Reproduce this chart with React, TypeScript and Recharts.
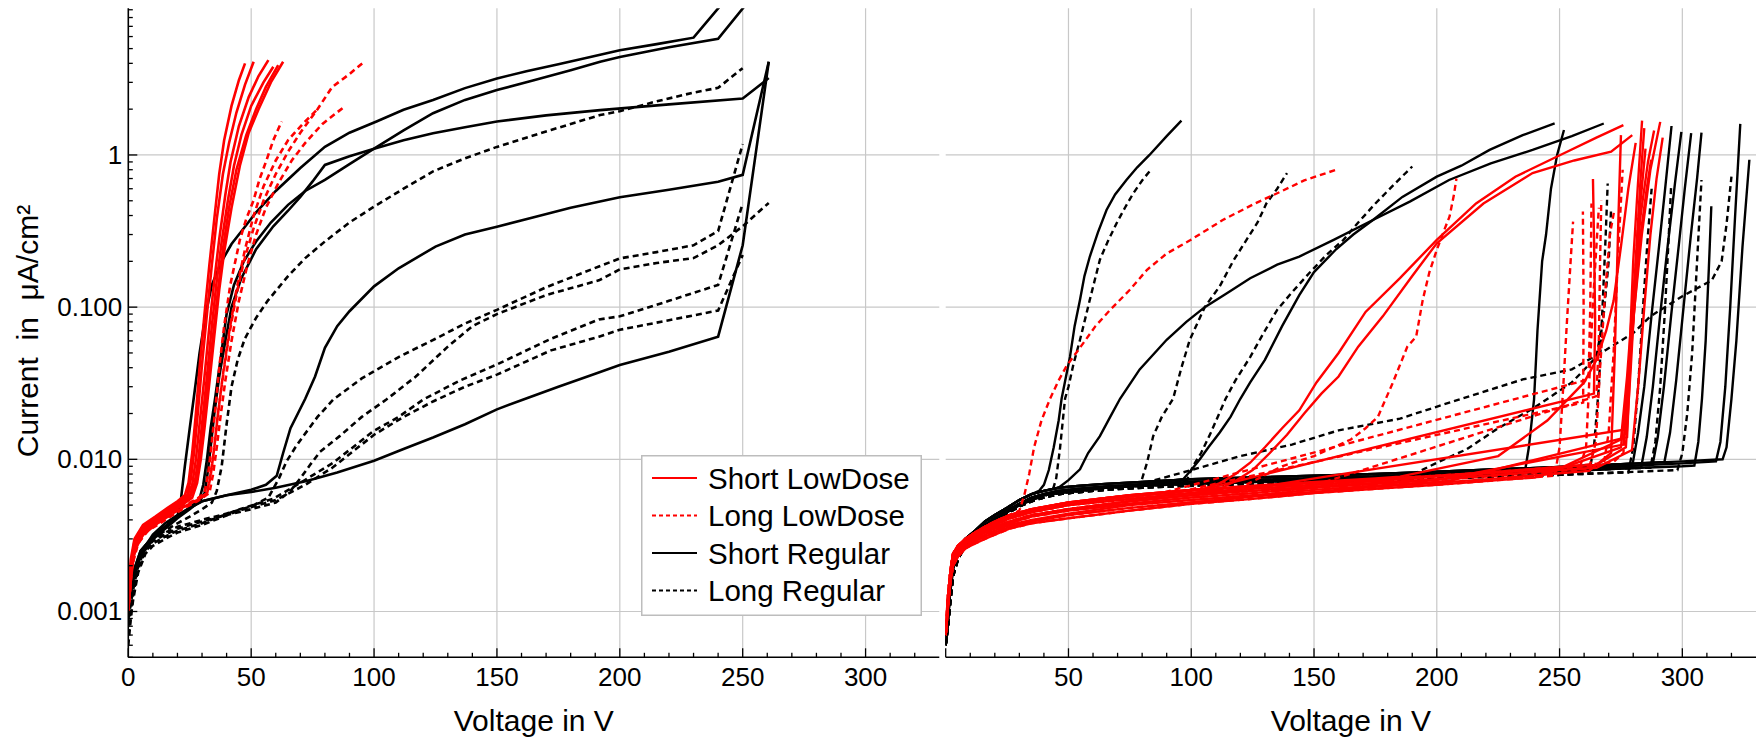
import React from "react";
import { CartesianGrid, Line, LineChart, XAxis, YAxis } from "recharts";

type Pt = [number, number];
type Curve = { pts: Pt[]; color: string; dashed: boolean };

const RED = "#ff0000";
const BLACK = "#000000";
const GRID = "#c8c8c8";
const FONT = "'Liberation Sans', Arial, sans-serif";

// axes
const X_TICKS = [0, 10, 20, 30, 40, 50, 60, 70, 80, 90, 100, 110, 120, 130, 140, 150, 160, 170, 180, 190, 200, 210, 220, 230, 240, 250, 260, 270, 280, 290, 300, 310, 320];
const X_MAJOR = [0, 50, 100, 150, 200, 250, 300];
const X_GRID = [50, 100, 150, 200, 250, 300];
const Y_TICKS = [
  0.0005, 0.0006, 0.0007, 0.0008, 0.0009,
  0.001, 0.002, 0.003, 0.004, 0.005, 0.006, 0.007, 0.008, 0.009,
  0.01, 0.02, 0.03, 0.04, 0.05, 0.06, 0.07, 0.08, 0.09,
  0.1, 0.2, 0.3, 0.4, 0.5, 0.6, 0.7, 0.8, 0.9,
  1, 2, 3, 4, 5, 6, 7, 8, 9,
];
const Y_MAJOR = [0.001, 0.01, 0.1, 1];
const Y_LABELS = ["0.001", "0.010", "0.100", "1"];

const LEGEND = [
  { label: "Short LowDose", color: RED, dashed: false },
  { label: "Long LowDose", color: RED, dashed: true },
  { label: "Short Regular", color: BLACK, dashed: false },
  { label: "Long Regular", color: BLACK, dashed: true },
];

// ---------- left panel: voltage (V) vs current (uA/cm2) ----------
const LR1: Pt[] = [[0,0.0013],[1,0.0022],[2.5,0.003],[6,0.0037],[11,0.0042],[16,0.0048],[20,0.0053],[23,0.0058],[24.5,0.007],[26,0.011],[27.5,0.02],[29,0.04],[31,0.09],[33,0.19],[35,0.38],[37,0.75],[39,1.25],[42,2.1],[45,3.1],[47.5,4.0]];
const LR2: Pt[] = [[0,0.0012],[1,0.002],[2.5,0.0029],[6,0.0036],[11,0.0041],[16,0.0047],[20,0.0052],[24,0.0058],[25.5,0.0075],[27,0.012],[28.5,0.022],[30,0.042],[32,0.09],[34,0.19],[36,0.38],[38.5,0.75],[41,1.2],[44,1.9],[47.5,2.9],[51,4.1]];
const LR3: Pt[] = [[0,0.0011],[1,0.0019],[2.5,0.0028],[6,0.0035],[11,0.004],[16,0.0046],[20,0.0051],[24,0.0058],[26,0.0068],[27.5,0.01],[29,0.017],[31,0.035],[33,0.075],[35,0.15],[37,0.28],[39.5,0.55],[41.6,0.9],[45,1.55],[49,2.4],[53,3.3],[57,4.2]];
const LR4: Pt[] = [[0,0.0011],[1,0.0018],[2.5,0.0027],[6,0.0034],[11,0.0039],[16,0.0045],[21,0.0051],[25,0.0058],[27,0.007],[28.5,0.01],[30,0.017],[32,0.035],[34,0.075],[36,0.15],[38,0.27],[40.5,0.5],[43,0.85],[46,1.35],[50,2.1],[55,3.0],[59,3.8]];
const LR5: Pt[] = [[0,0.001],[1,0.0017],[2.5,0.0026],[6,0.0033],[11,0.0038],[16,0.0044],[21,0.005],[25,0.0056],[27.5,0.007],[29,0.01],[30.5,0.016],[32.5,0.032],[34.5,0.065],[36.5,0.13],[38.5,0.24],[41,0.45],[44,0.8],[48,1.35],[52,2.0],[56,2.8],[61,3.9]];
const LR6: Pt[] = [[0,0.001],[1,0.0016],[2.5,0.0025],[6,0.0032],[11,0.0037],[16,0.0043],[21,0.0049],[26,0.0056],[28,0.007],[29.5,0.01],[31,0.016],[33,0.032],[35,0.065],[37,0.13],[39,0.23],[42,0.45],[45.4,0.85],[49,1.4],[53,2.0],[58,3.0],[63,4.1]];

const LD1: Pt[] = [[0,0.0011],[1.5,0.0022],[4,0.003],[8,0.0036],[13,0.004],[18,0.0045],[23,0.005],[28,0.0055],[31,0.006],[32.5,0.008],[34,0.013],[35.5,0.022],[37,0.04],[39,0.075],[41.5,0.14],[45.4,0.277],[48,0.38],[50.9,0.5],[53.5,0.7],[56.3,0.93],[59,1.25],[62.4,1.66]];
const LD2: Pt[] = [[0,0.001],[1.5,0.002],[4,0.0029],[8,0.0035],[13,0.0039],[18,0.0044],[23,0.0049],[28,0.0054],[32,0.006],[33.5,0.008],[35,0.012],[36.5,0.02],[38.5,0.035],[41,0.065],[44,0.12],[47,0.2],[51,0.33],[55,0.5],[60,0.75],[65,1.05],[70,1.4],[77,2.0],[83,2.8],[90,3.4],[96,4.1]];
const LD3: Pt[] = [[0,0.001],[1.5,0.002],[4,0.0028],[8,0.0034],[13,0.0038],[18,0.0043],[23,0.0048],[28,0.0053],[33,0.006],[34.5,0.008],[36,0.012],[37.5,0.019],[39.5,0.033],[42,0.06],[45,0.11],[48.5,0.19],[52,0.3],[56,0.45],[61,0.65],[66.5,0.92],[72,1.2],[79,1.6],[87.5,2.05]];
const LD4: Pt[] = [[0,0.0011],[1.5,0.0021],[4,0.0029],[8,0.0035],[13,0.0039],[18,0.0044],[23,0.0049],[28,0.0054],[32,0.0059],[33.5,0.0078],[35,0.012],[36.5,0.02],[38.5,0.036],[41,0.068],[44,0.13],[47.5,0.24],[51,0.4],[55,0.62],[60,0.92],[65,1.25],[71,1.6],[77,2.0]];

const LS1: Pt[] = [[0,0.0011],[2,0.0018],[5,0.0025],[10,0.0031],[15,0.0036],[20,0.0042],[21.5,0.0056],[23,0.009],[25,0.016],[27,0.028],[29,0.05],[31.5,0.09],[34,0.14],[38,0.2],[42,0.26],[47,0.33],[52,0.42],[60,0.58],[70,0.82],[80,1.13],[90,1.4],[101,1.66],[112,1.98],[124,2.3],[137,2.75],[150,3.18],[162,3.55],[175,3.95],[188,4.4],[200,4.88],[215,5.35],[230,5.9],[241,9.6]];
const LS2: Pt[] = [[0,0.0011],[2,0.0018],[5,0.0025],[10,0.0031],[15,0.0036],[20,0.0042],[25,0.0048],[29,0.0055],[30.5,0.0068],[32,0.01],[33.5,0.016],[35.3,0.025],[37.5,0.045],[40,0.09],[43,0.14],[47,0.2],[52,0.27],[58,0.36],[65,0.47],[72,0.58],[80,0.686],[90,0.87],[100,1.1],[112,1.45],[124,1.88],[137,2.3],[150,2.67],[165,3.1],[180,3.6],[192,4.1],[200,4.4],[220,5.1],[240,5.8],[251,9.6]];
const LS3: Pt[] = [[0,0.0011],[2,0.0017],[5,0.0024],[10,0.003],[15,0.0035],[20,0.0041],[25,0.0047],[29,0.0053],[31,0.006],[32,0.0075],[33.5,0.012],[35,0.02],[37,0.035],[39.5,0.06],[42,0.1],[46,0.155],[52,0.24],[59,0.34],[65,0.43],[70,0.53],[75,0.67],[80,0.86],[90,0.98],[100,1.1],[112,1.25],[124,1.39],[137,1.52],[150,1.66],[170,1.82],[192,1.97],[220,2.15],[250,2.35],[260.6,3.2]];
const LS4: Pt[] = [[0,0.0011],[2,0.0017],[5,0.0024],[10,0.0032],[15,0.0038],[20,0.0043],[25,0.0048],[30,0.0053],[40,0.0058],[50,0.0063],[56,0.0068],[60.4,0.0078],[63,0.011],[66,0.016],[69,0.02],[72,0.025],[76,0.035],[80,0.054],[85,0.075],[90,0.094],[100,0.137],[110,0.18],[125,0.25],[137,0.3],[150,0.338],[165,0.39],[180,0.45],[200,0.527],[220,0.59],[240,0.667],[250,0.74],[260.6,4.1]];
const LS5: Pt[] = [[0,0.0011],[2,0.0016],[5,0.0023],[10,0.003],[15,0.0036],[20,0.0042],[25,0.0048],[30,0.0053],[40,0.0058],[50,0.0061],[60,0.0065],[72.6,0.0072],[85,0.0082],[100,0.0098],[112,0.0117],[124,0.0139],[137,0.017],[150,0.0213],[163,0.0255],[175,0.03],[188,0.0355],[200,0.0417],[220,0.051],[240,0.064],[250,0.255],[260.6,4.1]];

const LL1: Pt[] = [[0,0.0006],[1,0.0009],[2,0.0014],[3.5,0.002],[6,0.0026],[10,0.003],[15,0.0034],[20,0.0038],[25,0.0042],[30,0.0047],[34,0.0052],[36,0.0062],[38,0.009],[40,0.017],[42,0.03],[44.5,0.045],[47.4,0.062],[52,0.085],[56.7,0.11],[65,0.16],[72,0.21],[80,0.27],[90,0.36],[100,0.458],[112,0.6],[124,0.78],[137,0.95],[150,1.13],[172,1.46],[192,1.83],[200,1.94],[215,2.25],[230,2.57],[240,2.76],[250,3.72]];
const LL2: Pt[] = [[0,0.0009],[2,0.0015],[4,0.002],[7,0.0027],[10,0.003],[15,0.0033],[20,0.0036],[30,0.004],[40,0.0044],[50,0.0049],[57,0.0056],[61.3,0.0075],[64.4,0.0097],[68,0.012],[71.2,0.0142],[77,0.019],[83.4,0.0247],[95,0.034],[110,0.047],[125,0.062],[137,0.078],[150,0.096],[170,0.135],[191.5,0.185],[200,0.209],[215,0.23],[230,0.255],[240,0.316],[250,1.18]];
const LL3: Pt[] = [[0,0.0009],[2,0.0014],[4,0.002],[7,0.0026],[10,0.0029],[15,0.0032],[20,0.0035],[30,0.0039],[40,0.0043],[50,0.0047],[60,0.0052],[66,0.0062],[70,0.0075],[74,0.0092],[78,0.0112],[86,0.0142],[95,0.019],[105,0.0247],[117,0.035],[130,0.055],[140,0.075],[150,0.09],[170,0.12],[191.5,0.15],[200,0.177],[215,0.195],[230,0.21],[240,0.255],[250,0.34],[260.6,0.484]];
const LL4: Pt[] = [[0,0.0008],[2,0.0013],[4,0.0019],[7,0.0025],[10,0.0028],[15,0.0031],[20,0.0034],[30,0.0038],[45.4,0.0047],[59,0.0055],[71.2,0.0072],[83.4,0.0095],[99.7,0.0153],[110,0.019],[120,0.0247],[135,0.033],[150,0.042],[172,0.062],[191.5,0.083],[200,0.087],[220,0.11],[240,0.14],[250,0.48]];
const LL5: Pt[] = [[0,0.0007],[2,0.0012],[4,0.0018],[7,0.0024],[10,0.0027],[15,0.003],[20,0.0033],[30,0.0037],[45,0.0046],[60,0.0054],[72,0.0068],[83,0.0088],[100,0.0145],[112,0.019],[124,0.024],[137,0.03],[150,0.036],[172,0.052],[191.5,0.064],[200,0.071],[220,0.082],[240,0.095],[250,0.22]];

// ---------- right panel: common leakage bundle ----------
const BK1: Pt[] = [[0,0.0006],[1,0.001],[2,0.0016],[3,0.0022],[5,0.0026],[8,0.003],[12,0.0034],[16,0.0039],[20,0.0043],[25,0.0048],[30,0.0054],[35,0.0059],[40,0.0062],[46,0.0065],[55,0.0067],[65,0.0069],[80,0.0071],[100,0.0074],[125,0.0076],[150,0.0078],[175,0.008],[200,0.0083],[225,0.0086],[250,0.0089],[275,0.0093],[300,0.0097],[325,0.0101]];
const BK2: Pt[] = [[0,0.0006],[1,0.0009],[2,0.0015],[3,0.0021],[5,0.0025],[8,0.0029],[12,0.0033],[16,0.0037],[20,0.0041],[25,0.0046],[30,0.0051],[35,0.0056],[40,0.0059],[46,0.0062],[55,0.0064],[65,0.0066],[80,0.0068],[100,0.0071],[125,0.0073],[150,0.0075],[175,0.0077],[200,0.008],[225,0.0083],[250,0.0086],[275,0.009],[300,0.0094],[325,0.0098]];
const BK3: Pt[] = [[0,0.0006],[1,0.0008],[2,0.0012],[3,0.0017],[5,0.0022],[8,0.0027],[12,0.0031],[16,0.0035],[20,0.0039],[25,0.0044],[30,0.0049],[35,0.0053],[40,0.0056],[46,0.0059],[55,0.0061],[65,0.0063],[80,0.0065],[100,0.0067],[125,0.0069],[150,0.0071],[175,0.0073],[200,0.0075],[225,0.0077],[250,0.0079],[275,0.0082],[300,0.0085],[325,0.0088]];
const BK4: Pt[] = [[0,0.0007],[1,0.001],[2,0.0014],[3,0.0019],[5,0.0024],[8,0.0028],[12,0.0032],[16,0.0036],[20,0.004],[25,0.0045],[30,0.005],[35,0.0054],[40,0.0058],[46,0.006],[55,0.0062],[65,0.0065],[80,0.0067],[100,0.0069],[125,0.0071],[150,0.0073],[175,0.0075],[200,0.0078],[225,0.008],[250,0.0083],[275,0.0087],[300,0.009],[325,0.0094]];

const RD1: Pt[] = [[0,0.0008],[1,0.0013],[2,0.0019],[3,0.0024],[5,0.0027],[8,0.003],[12,0.0033],[16,0.0036],[20,0.0039],[26,0.0043],[35,0.0047],[50,0.0052],[75,0.0058],[100,0.0063],[125,0.0067],[150,0.0071],[175,0.0075],[200,0.0079],[225,0.0084],[250,0.009],[270,0.0096],[285,0.0102]];
const RD2: Pt[] = [[0,0.0007],[1,0.0012],[2,0.0018],[3,0.0022],[5,0.0025],[8,0.0028],[12,0.0031],[16,0.0034],[20,0.0036],[26,0.0039],[35,0.0043],[50,0.0047],[75,0.0053],[100,0.0058],[125,0.0062],[150,0.0066],[175,0.007],[200,0.0074],[225,0.0079],[250,0.0085],[270,0.009],[285,0.0095]];
const RD3: Pt[] = [[0,0.0007],[1,0.0011],[2,0.0016],[3,0.002],[5,0.0023],[8,0.0026],[12,0.0028],[16,0.003],[20,0.0032],[26,0.0035],[35,0.0038],[50,0.0041],[75,0.0046],[100,0.0051],[125,0.0055],[150,0.006],[175,0.0064],[200,0.0068],[225,0.0073],[250,0.0079],[270,0.0084],[285,0.0088]];
const RD4: Pt[] = [[0,0.0008],[1,0.0012],[2,0.0018],[3,0.0023],[5,0.0026],[8,0.0029],[12,0.0032],[16,0.0035],[20,0.0037],[26,0.0041],[35,0.0045],[50,0.005],[75,0.0055],[100,0.006],[125,0.0064],[150,0.0068],[175,0.0072],[200,0.0077],[225,0.0082],[250,0.0087],[270,0.0093],[285,0.0098]];
const RD5: Pt[] = [[0,0.0007],[1,0.0011],[2,0.0017],[3,0.0021],[5,0.0024],[8,0.0027],[12,0.0029],[16,0.0032],[20,0.0034],[26,0.0037],[35,0.004],[50,0.0044],[75,0.005],[100,0.0054],[125,0.0058],[150,0.0063],[175,0.0067],[200,0.0071],[225,0.0076],[250,0.0082],[270,0.0087],[285,0.0091]];
const RD6: Pt[] = [[0,0.0008],[1,0.0013],[2,0.0019],[3,0.0024],[5,0.0027],[8,0.003],[12,0.0033],[16,0.0036],[20,0.0038],[26,0.0042],[35,0.0046],[50,0.0051],[75,0.0057],[100,0.0062],[125,0.0066],[150,0.007],[175,0.0074],[200,0.0078],[225,0.0083],[250,0.0089],[270,0.0095],[285,0.01]];
const RD7: Pt[] = [[0,0.0007],[1,0.0012],[2,0.0017],[3,0.0022],[5,0.0025],[8,0.0028],[12,0.003],[16,0.0033],[20,0.0035],[26,0.0038],[35,0.0042],[50,0.0046],[75,0.0051],[100,0.0056],[125,0.006],[150,0.0065],[175,0.0069],[200,0.0073],[225,0.0078],[250,0.0084],[270,0.0089],[285,0.0093]];
const RD8: Pt[] = [[0,0.0007],[1,0.0011],[2,0.0016],[3,0.002],[5,0.0023],[8,0.0026],[12,0.0029],[16,0.0031],[20,0.0033],[26,0.0036],[35,0.0039],[50,0.0043],[75,0.0048],[100,0.0052],[125,0.0057],[150,0.0061],[175,0.0066],[200,0.007],[225,0.0075],[250,0.0081],[270,0.0086],[285,0.009]];

// each right-panel curve follows a bundle line until its own readings start
const onBase = (base: Pt[], tail: Pt[]): Pt[] => [...base.filter((p) => p[0] < tail[0][0]), ...tail];

// Short Regular (black solid)
const RS1 = onBase(BK1, [[38,0.0062],[40,0.0068],[42,0.0085],[44,0.012],[46,0.018],[47.2,0.025],[49,0.035],[50.6,0.047],[52.5,0.075],[54.7,0.112],[56.5,0.16],[58.7,0.215],[62,0.31],[65.5,0.435],[69,0.55],[73.6,0.685],[78,0.83],[83,1.0],[90,1.33],[96,1.68]]);
const RS2 = onBase(BK1, [[46.5,0.0066],[50,0.0073],[54.7,0.0086],[58,0.011],[62.8,0.0142],[67,0.019],[71,0.025],[79,0.039],[90,0.061],[98,0.08],[105.5,0.1],[115,0.125],[124,0.155],[135,0.19],[144,0.215],[158,0.277],[174,0.374],[189,0.494],[205,0.685],[222,0.88],[239,1.08],[255,1.33],[268,1.61]]);
const RS3 = onBase(BK2, [[96.7,0.0074],[100,0.0085],[103.5,0.01],[107,0.012],[111.6,0.015],[116,0.019],[120,0.025],[124,0.032],[130,0.045],[137,0.075],[144,0.12],[150,0.17],[159,0.24],[166,0.3],[174,0.374],[186,0.53],[200,0.72],[210,0.85],[221.5,1.08],[235,1.35],[248,1.61]]);
const RS4 = onBase(BK2, [[236,0.0085],[237.5,0.012],[239.6,0.0247],[241,0.07],[242.9,0.2],[244.5,0.3],[246.5,0.6],[249,1.0],[251.8,1.46]]);
const RS5 = onBase(BK1, [[279.8,0.0094],[282,0.015],[284.5,0.03],[287.5,0.09],[290.5,0.25],[293,0.6],[295.6,1.55]]);
const RS6 = onBase(BK4, [[283.2,0.0088],[285.5,0.014],[288,0.03],[291,0.09],[294,0.25],[297,0.65],[299.6,1.42]]);
const RS7 = onBase(BK2, [[287.9,0.0092],[290,0.014],[292.5,0.03],[295.5,0.09],[298.5,0.25],[301,0.6],[303.6,1.39]]);
const RS8 = onBase(BK1, [[292.7,0.0096],[295,0.015],[297.5,0.033],[300.5,0.1],[303.5,0.3],[306,0.7],[307.8,1.4]]);
const RS9 = onBase(BK4, [[304.9,0.0091],[306.5,0.013],[308,0.025],[309.5,0.06],[310.8,0.18],[311.8,0.46]]);
const RS10 = onBase(BK2, [[313.7,0.0097],[315.5,0.013],[317.5,0.03],[319.5,0.1],[321.5,0.4],[323.6,1.6]]);
const RS11 = onBase(BK1, [[316.4,0.01],[318,0.012],[320,0.025],[322,0.06],[324.5,0.25],[327.3,0.93]]);

// Long Regular (black dashed)
const RL1 = onBase(BK3, [[43,0.0058],[45,0.0075],[46.5,0.0116],[48.6,0.025],[50,0.03],[52,0.042],[54.7,0.061],[56.5,0.08],[58.7,0.112],[62.8,0.205],[66,0.27],[69.6,0.356],[73,0.45],[76.4,0.56],[80,0.68],[83,0.78]]);
const RL2 = onBase(BK3, [[79,0.0066],[82,0.0095],[84.5,0.0142],[88,0.019],[92.6,0.025],[96,0.04],[99.4,0.061],[105.5,0.1],[111.6,0.137],[117,0.2],[122.5,0.277],[127,0.36],[130.6,0.48],[135,0.6],[139,0.76]]);
const RL3 = onBase(BK4, [[98,0.0072],[101,0.0092],[104,0.011],[108,0.015],[114,0.025],[118,0.033],[124,0.047],[130,0.07],[135,0.096],[141,0.125],[148,0.167],[155,0.22],[162,0.277],[168,0.36],[175,0.48],[183,0.65],[190,0.84]]);
const RL4 = onBase(BK4, [[77,0.0067],[100,0.0085],[120,0.0105],[141,0.0125],[160,0.0155],[185,0.0185],[210,0.025],[235,0.0335],[255,0.039],[269,0.0525],[280,0.0675],[287,0.087],[300,0.118],[312,0.15],[316,0.2],[318,0.35],[320,0.72]]);
const RL5 = onBase(BK3, [[298,0.0085],[300,0.011],[302,0.02],[304,0.05],[306,0.2],[307.8,0.685]]);
const RL6 = onBase(BK3, [[262,0.0081],[264,0.012],[266,0.03],[267.5,0.1],[268.8,0.3],[269.6,0.65]]);
const RL7 = onBase(BK4, [[287,0.0088],[289,0.013],[291,0.03],[293,0.1],[294.5,0.3],[295.4,0.605]]);
const RL8 = onBase(BK2, [[190,0.0079],[200,0.0095],[212,0.0116],[225,0.016],[240,0.022],[255,0.032],[265,0.047],[268,0.09],[270,0.2],[271,0.45]]);
const RL9 = onBase(BK3, [[278,0.0082],[280,0.012],[282,0.03],[284,0.1],[286,0.3],[287.5,0.6]]);

// Short LowDose (red solid)
const RR1 = onBase(RD1, [[105,0.0064],[112,0.007],[118,0.008],[124,0.0095],[130,0.012],[137,0.016],[144,0.021],[151,0.032],[160,0.05],[171,0.093],[185,0.155],[200,0.277],[216,0.48],[232,0.72],[252,1.03],[265,1.3],[276,1.57]]);
const RR2 = onBase(RD4, [[110,0.0062],[118,0.0072],[125,0.0085],[132,0.011],[139,0.0145],[146,0.02],[153,0.027],[160,0.035],[168,0.055],[178,0.087],[190,0.16],[200,0.263],[219,0.48],[239,0.76],[256,0.92],[271,1.05],[279.6,1.35]]);
const RR3 = onBase(RD1, [[106,0.0064],[264,0.027],[264.5,0.08],[264,0.3],[263.6,0.696]]);
const RR4 = onBase(RD2, [[115,0.0061],[277,0.0157],[278.5,0.05],[280,0.2],[281.8,0.6],[283.6,1.68]]);
const RR5 = onBase(RD7, [[200,0.0073],[276,0.0125],[278,0.03],[280.5,0.1],[283,0.3],[285.5,0.6],[287.3,0.93]]);
const RR6 = onBase(RD3, [[240,0.0076],[275,0.012],[277.5,0.03],[280.5,0.1],[283.5,0.3],[287,0.8],[291,1.65]]);
const RR7 = onBase(RD4, [[250,0.0087],[275,0.0135],[277.5,0.035],[280,0.12],[283,0.4],[286,0.9],[288.5,1.45]]);
const RR8 = onBase(RD2, [[265,0.0088],[279.5,0.0115],[282,0.03],[284.5,0.1],[287,0.3],[289.5,0.7],[292,1.3]]);
const RR9 = onBase(RD8, [[262,0.0084],[271,0.011],[272.5,0.05],[274,0.4],[275,1.35]]);
const RR10 = onBase(RD1, [[185,0.0077],[225,0.0105],[245,0.018],[260,0.032],[265,0.045],[269,0.07],[272,0.11],[275,0.25],[278,0.6],[281,1.2]]);
const RR11 = onBase(RD6, [[265,0.0092],[277,0.012],[279,0.04],[281,0.15],[283,0.5],[285,1.1]]);
const RR12 = onBase(RD5, [[205,0.0072],[277.5,0.014],[279,0.05],[281,0.2],[283,0.7],[284.5,1.5]]);

// Long LowDose (red dashed)
const RLD1 = onBase(RD1, [[30,0.0046],[32,0.0058],[34,0.008],[36,0.012],[39,0.018],[42.5,0.025],[46,0.033],[49.2,0.041],[55,0.055],[61,0.075],[67,0.096],[75,0.13],[82,0.176],[90,0.225],[99.5,0.275],[113,0.375],[126,0.48],[136,0.57],[146,0.68],[159,0.8]]);
const RLD2 = onBase(RD4, [[120,0.0065],[137,0.009],[150,0.0105],[158,0.012],[165,0.0135],[171,0.016],[176,0.019],[182,0.0316],[188,0.055],[191.6,0.064],[194.3,0.112],[197,0.17],[200,0.238],[203,0.32],[205.2,0.394],[207,0.55],[208,0.7]]);
const RLD3 = onBase(RD3, [[248,0.0078],[250,0.012],[251.5,0.03],[253,0.08],[254.5,0.2],[255.5,0.365]]);
const RLD4 = onBase(RD2, [[80,0.0054],[259.6,0.0236],[259.8,0.1],[259.5,0.425]]);
const RLD5 = onBase(RD1, [[88,0.006],[261.8,0.0335],[262.5,0.1],[263,0.48]]);
const RLD6 = onBase(RD7, [[258,0.0086],[260.8,0.012],[262,0.03],[263.5,0.1],[265,0.25],[266,0.45]]);
const RLD7 = onBase(RD2, [[262,0.0087],[264.8,0.013],[266.5,0.04],[268.5,0.12],[270.5,0.3],[272.3,0.435]]);
const RLD8 = onBase(RD4, [[268,0.0092],[270,0.015],[272,0.05],[274,0.25],[275.7,0.8]]);
const RLD9 = onBase(RD8, [[140,0.006],[265,0.026],[266,0.06],[266.5,0.2],[267,0.5]]);
const RLD10 = onBase(RD6, [[272,0.0096],[276,0.011],[278,0.03],[280,0.1],[282,0.35],[283.5,0.75]]);

const group = (list: Pt[][], color: string, dashed: boolean): Curve[] =>
  list.map((pts) => ({ pts, color, dashed }));

const LEFT_CURVES: Curve[] = [
  ...group([LL1, LL2, LL3, LL4, LL5], BLACK, true),
  ...group([LS1, LS2, LS3, LS4, LS5], BLACK, false),
  ...group([LD1, LD2, LD3, LD4], RED, true),
  ...group([LR1, LR2, LR3, LR4, LR5, LR6], RED, false),
];

const RIGHT_CURVES: Curve[] = [
  ...group([RL1, RL2, RL3, RL4, RL5, RL6, RL7, RL8, RL9], BLACK, true),
  ...group([RS1, RS2, RS3, RS4, RS5, RS6, RS7, RS8, RS9, RS10, RS11], BLACK, false),
  ...group([RLD1, RLD2, RLD3, RLD4, RLD5, RLD6, RLD7, RLD8, RLD9, RLD10], RED, true),
  ...group([RR1, RR2, RR3, RR4, RR5, RR6, RR7, RR8, RR9, RR10, RR11, RR12], RED, false),
];

const yMajorIndex = (v: number) => Y_MAJOR.findIndex((m) => Math.abs(m - v) < m * 1e-6);

function bottomTick(showZero: boolean) {
  return (p: any) => {
    const v = p.payload.value;
    const major = X_MAJOR.includes(v);
    const len = major ? 9 : 4.5;
    return (
      <g>
        <line x1={p.x} y1={p.y} x2={p.x} y2={p.y - len} stroke={BLACK} strokeWidth={1.3} />
        {major && (showZero || v !== 0) && (
          <text x={p.x} y={p.y + 29} textAnchor="middle" fontSize={26} fontFamily={FONT} fill={BLACK}>
            {v}
          </text>
        )}
      </g>
    );
  };
}

const topTick = (p: any) => {
  const len = X_MAJOR.includes(p.payload.value) ? 9 : 4.5;
  return <line x1={p.x} y1={p.y} x2={p.x} y2={p.y + len} stroke={BLACK} strokeWidth={1.3} />;
};

function leftTick(showLabels: boolean) {
  return (p: any) => {
    const idx = yMajorIndex(p.payload.value);
    const len = idx >= 0 ? 9 : 4.5;
    return (
      <g>
        <line x1={p.x} y1={p.y} x2={p.x + len} y2={p.y} stroke={BLACK} strokeWidth={1.3} />
        {showLabels && idx >= 0 && (
          <text x={p.x - 6} y={p.y + 9} textAnchor="end" fontSize={26} fontFamily={FONT} fill={BLACK}>
            {Y_LABELS[idx]}
          </text>
        )}
      </g>
    );
  };
}

const rightTick = (p: any) => {
  const len = yMajorIndex(p.payload.value) >= 0 ? 9 : 4.5;
  return <line x1={p.x} y1={p.y} x2={p.x - len} y2={p.y} stroke={BLACK} strokeWidth={1.3} />;
};

const FRAME = { stroke: BLACK, strokeWidth: 1.6 };

function Panel({
  width,
  margin,
  yWidth,
  showYLabels,
  showZero,
  curves,
  lineWidth,
}: {
  width: number;
  margin: { top: number; right: number; bottom: number; left: number };
  yWidth: number;
  showYLabels: boolean;
  showZero: boolean;
  curves: Curve[];
  lineWidth: number;
}) {
  return (
    <LineChart width={width} height={739} margin={margin}>
      <CartesianGrid
        xAxisId="b"
        yAxisId="l"
        verticalValues={X_GRID}
        horizontalValues={Y_MAJOR}
        stroke={GRID}
        strokeWidth={1.2}
      />
      <XAxis
        xAxisId="b"
        type="number"
        dataKey="v"
        domain={[0, 330]}
        ticks={X_TICKS}
        interval={0}
        allowDataOverflow
        tickSize={0}
        tickMargin={0}
        tickLine={false}
        height={81.7}
        axisLine={FRAME}
        tick={bottomTick(showZero)}
      />
      <XAxis
        xAxisId="t"
        orientation="top"
        type="number"
        dataKey="v"
        domain={[0, 330]}
        ticks={X_TICKS}
        interval={0}
        allowDataOverflow
        tickSize={0}
        tickMargin={0}
        tickLine={false}
        height={0}
        axisLine={FRAME}
        tick={topTick}
      />
      <YAxis
        yAxisId="l"
        type="number"
        scale="log"
        domain={[0.0005, 9.2]}
        ticks={Y_TICKS}
        interval={0}
        allowDataOverflow
        tickSize={0}
        tickMargin={0}
        tickLine={false}
        width={yWidth}
        axisLine={FRAME}
        tick={leftTick(showYLabels)}
      />
      <YAxis
        yAxisId="r"
        orientation="right"
        type="number"
        scale="log"
        domain={[0.0005, 9.2]}
        ticks={Y_TICKS}
        interval={0}
        allowDataOverflow
        tickSize={0}
        tickMargin={0}
        tickLine={false}
        width={0}
        axisLine={FRAME}
        tick={rightTick}
      />
      {curves.map((c, k) => (
        <Line
          key={k}
          xAxisId="b"
          yAxisId="l"
          data={c.pts.map(([v, i]) => ({ v, i }))}
          dataKey="i"
          type="linear"
          stroke={c.color}
          strokeWidth={lineWidth}
          strokeDasharray={c.dashed ? "6 4" : undefined}
          dot={false}
          activeDot={false}
          isAnimationActive={false}
        />
      ))}
    </LineChart>
  );
}

function LegendBox() {
  return (
    <svg style={{ position: "absolute", left: 641, top: 455 }} width={281} height={161}>
      <rect x={0.75} y={0.75} width={279.5} height={159.5} fill="#fff" stroke="#bdbdbd" strokeWidth={1.5} />
      {LEGEND.map((r, k) => {
        const cy = 23 + k * 37.5;
        return (
          <g key={r.label}>
            <line x1={11} x2={56} y1={cy} y2={cy} stroke={r.color} strokeWidth={1.8} strokeDasharray={r.dashed ? "4 3" : undefined} />
            <text x={67} y={cy + 10.5} fontSize={29.5} fontFamily={FONT} fill={BLACK}>
              {r.label}
            </text>
          </g>
        );
      })}
    </svg>
  );
}

export default function App() {
  return (
    <div style={{ position: "absolute", left: 0, top: 0, width: 1758, height: 739, background: "#fff" }}>
      <div style={{ position: "absolute", left: 0, top: 0 }}>
        <Panel
          width={945}
          margin={{ top: 8.3, right: 5.7, bottom: 0, left: 0 }}
          yWidth={128.3}
          showYLabels
          showZero
          curves={LEFT_CURVES}
          lineWidth={2.6}
        />
      </div>
      <div style={{ position: "absolute", left: 940, top: 0 }}>
        <Panel
          width={818}
          margin={{ top: 8.3, right: 2, bottom: 0, left: 5.7 }}
          yWidth={0}
          showYLabels={false}
          showZero={false}
          curves={RIGHT_CURVES}
          lineWidth={2.4}
        />
      </div>
      <svg style={{ position: "absolute", left: 0, top: 0 }} width={1758} height={739}>
        <text x={533.8} y={731} textAnchor="middle" fontSize={30} fontFamily={FONT} fill={BLACK}>
          Voltage in V
        </text>
        <text x={1350.9} y={731} textAnchor="middle" fontSize={30} fontFamily={FONT} fill={BLACK}>
          Voltage in V
        </text>
        <text
          transform="translate(38,331) rotate(-90)"
          textAnchor="middle"
          fontSize={30}
          fontFamily={FONT}
          fill={BLACK}
          style={{ whiteSpace: "pre" }}
        >
          {"Current  in  μA/cm²"}
        </text>
      </svg>
      <LegendBox />
    </div>
  );
}
